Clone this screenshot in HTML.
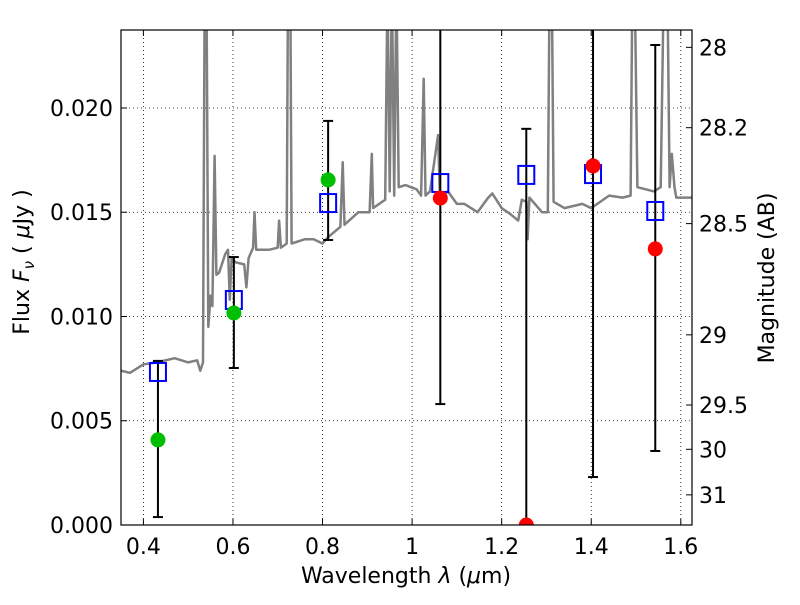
<!DOCTYPE html>
<html><head><meta charset="utf-8"><style>
body{margin:0;background:#fff}
svg text{font-family:"DejaVu Sans","Liberation Sans",sans-serif;fill:#000}
</style></head><body>
<svg id="chart" width="800" height="600" xmlns="http://www.w3.org/2000/svg">
<defs><clipPath id="pc"><rect x="121" y="30" width="571" height="495"/></clipPath></defs>
<rect x="0" y="0" width="800" height="600" fill="#fff"/>
<g id="grid"></g>
<g id="spec" clip-path="url(#pc)"></g>
<g id="marks" clip-path="url(#pc)"></g>
<rect x="121" y="30" width="571" height="495" fill="none" stroke="#000" stroke-width="1.2"/>
<g id="axes"></g>
<text x="406" y="583" font-size="22" text-anchor="middle">Wavelength  <tspan font-style="italic">λ</tspan> (<tspan font-style="italic">μ</tspan>m)</text>
<text transform="translate(29,262) rotate(-90)" font-size="22" text-anchor="middle">Flux  <tspan font-style="italic">F</tspan><tspan font-style="italic" font-size="15" dy="5">ν</tspan><tspan dy="-5">  ( </tspan><tspan font-style="italic">μ</tspan>Jy )</text>
<text transform="translate(774,278) rotate(-90)" font-size="22" text-anchor="middle">Magnitude (AB)</text>
</svg>
<script>
const xTicks=[0.4,0.6,0.8,1.0,1.2,1.4,1.6];
const xTickLabels=["0.4","0.6","0.8","1","1.2","1.4","1.6"];
const yTicks=[0,0.005,0.01,0.015,0.02];
const yTickLabels=["0.000","0.005","0.010","0.015","0.020"];
const magTicks=[28,28.2,28.5,29,29.5,30,31];
const magTickLabels=["28","28.2","28.5","29","29.5","30","31"];
const bandWave=[0.4325,0.602,0.8125,1.063,1.255,1.404,1.543];
const modelFlux=[0.00734,0.01079,0.01544,0.0164,0.01679,0.01683,0.01506];
const obsFlux=[0.00408,0.01017,0.01655,0.01568,0.0,0.01722,0.01324];
const obsColor=["green","green","green","red","red","red","red"];
const errLo=[0.00038,0.00753,0.01367,0.0058,0.0,0.0023,0.00355];
const errHi=[0.00787,0.01285,0.01938,0.026,0.0190,0.032,0.02302];
const specWave=[0.35,0.37,0.40,0.43,0.47,0.50,0.52,0.527,0.533,0.537,0.541,0.545,0.550,0.554,0.559,0.563,0.569,0.583,0.589,0.593,0.597,0.606,0.625,0.63,0.635,0.645,0.648,0.652,0.68,0.70,0.703,0.707,0.72,0.723,0.728,0.731,0.76,0.78,0.80,0.812,0.84,0.845,0.849,0.88,0.905,0.91,0.913,0.94,0.945,0.95,0.955,0.96,0.965,0.97,0.985,1.01,1.02,1.026,1.03,1.04,1.058,1.062,1.08,1.1,1.117,1.146,1.17,1.179,1.2,1.22,1.237,1.245,1.255,1.258,1.262,1.29,1.303,1.307,1.312,1.316,1.34,1.38,1.40,1.44,1.47,1.488,1.492,1.497,1.503,1.54,1.555,1.562,1.57,1.575,1.58,1.586,1.59,1.625];
const specFlux=[0.0074,0.0073,0.0077,0.0078,0.0080,0.0078,0.0079,0.0074,0.0078,0.026,0.026,0.0095,0.011,0.0105,0.0177,0.012,0.0121,0.0130,0.0132,0.0108,0.0128,0.0126,0.0125,0.0114,0.0128,0.0133,0.015,0.0132,0.0132,0.0133,0.0146,0.0133,0.0135,0.026,0.026,0.0135,0.0137,0.0137,0.0135,0.0138,0.0143,0.0174,0.0144,0.0150,0.0150,0.0178,0.0152,0.0156,0.026,0.016,0.026,0.0158,0.026,0.0162,0.0163,0.0161,0.0158,0.0214,0.0158,0.016,0.0187,0.0158,0.0160,0.0154,0.0154,0.0150,0.0157,0.0159,0.0152,0.0149,0.0146,0.0156,0.0155,0.0137,0.0157,0.0150,0.0150,0.026,0.026,0.0155,0.0152,0.0154,0.0152,0.0158,0.0157,0.0158,0.026,0.026,0.0162,0.0160,0.0162,0.026,0.026,0.0162,0.0178,0.0162,0.0157,0.0157];

const X0=121,X1=692,Y0=525,Y1=30,XMIN=0.35,XMAX=1.625,YMIN=0,YMAX=0.02374;
function sx(v){return X0+(v-XMIN)/(XMAX-XMIN)*(X1-X0);}
function sy(v){return Y0-(v-YMIN)/(YMAX-YMIN)*(Y0-Y1);}
function magToFlux(m){return Math.pow(10,(23.9-m)/2.5);}
const NS="http://www.w3.org/2000/svg";
function mk(tag,attrs,parent){const e=document.createElementNS(NS,tag);for(const k in attrs)e.setAttribute(k,attrs[k]);parent.appendChild(e);return e;}
const grid=document.getElementById('grid'),axes=document.getElementById('axes'),spec=document.getElementById('spec'),marks=document.getElementById('marks');

xTicks.forEach((t,i)=>{const x=sx(t);
 let g=mk('line',{x1:x,x2:x,y1:Y1,y2:Y0,stroke:'#000','stroke-width':0.8,'stroke-dasharray':'1,3'},grid);
 
 
 let tk=mk('line',{x1:x,x2:x,y1:Y0,y2:Y0-6,stroke:'#000','stroke-width':1},axes);
 
 
 let tk2=mk('line',{x1:x,x2:x,y1:Y1,y2:Y1+6,stroke:'#000','stroke-width':1},axes);
 
 
 let tx=mk('text',{x:x,y:554,'font-size':22,'text-anchor':'middle'},axes);tx.textContent=xTickLabels[i];
 
 
});
yTicks.forEach((t,i)=>{const y=sy(t);
 let g=mk('line',{x1:X0,x2:X1,y1:y,y2:y,stroke:'#000','stroke-width':0.8,'stroke-dasharray':'1,3'},grid);
 
 
 let tk=mk('line',{x1:X0,x2:X0+6,y1:y,y2:y,stroke:'#000','stroke-width':1},axes);
 
 
 let tx=mk('text',{x:113,y:y+8,'font-size':22,'text-anchor':'end'},axes);tx.textContent=yTickLabels[i];
 
 
});
magTicks.forEach((m,i)=>{const y=sy(magToFlux(m));
 let tk=mk('line',{x1:X1-6,x2:X1,y1:y,y2:y,stroke:'#000','stroke-width':1},axes);
 
 
 let tx=mk('text',{x:699,y:y+8,'font-size':22,'text-anchor':'start'},axes);tx.textContent=magTickLabels[i];
 
 
});

let pts=specWave.map((w,i)=>sx(w).toFixed(1)+','+sy(specFlux[i]).toFixed(1)).join(' ');
let pl=mk('polyline',{points:pts,fill:'none',stroke:'#808080','stroke-width':2.5,'stroke-linejoin':'round'},spec);



bandWave.forEach((w,i)=>{const x=sx(w);
 let e=mk('line',{x1:x,x2:x,y1:sy(errLo[i]),y2:sy(errHi[i]),stroke:'#000','stroke-width':2},marks);
 
 
 [errLo[i],errHi[i]].forEach(v=>{let c=mk('line',{x1:x-5,x2:x+5,y1:sy(v),y2:sy(v),stroke:'#000','stroke-width':2},marks);
  
  });
});
bandWave.forEach((w,i)=>{const x=sx(w),y=sy(modelFlux[i]);
 let r=mk('rect',{x:x-8,y:y-9,width:16,height:18,fill:'none',stroke:'#0000ff','stroke-width':2},marks);
 
 
});
bandWave.forEach((w,i)=>{
 let c=mk('circle',{cx:sx(w),cy:sy(obsFlux[i]),r:7.5,fill:obsColor[i]==='green'?'#00bf00':'#ff0000'},marks);
 
 
});
</script>
</body></html>
